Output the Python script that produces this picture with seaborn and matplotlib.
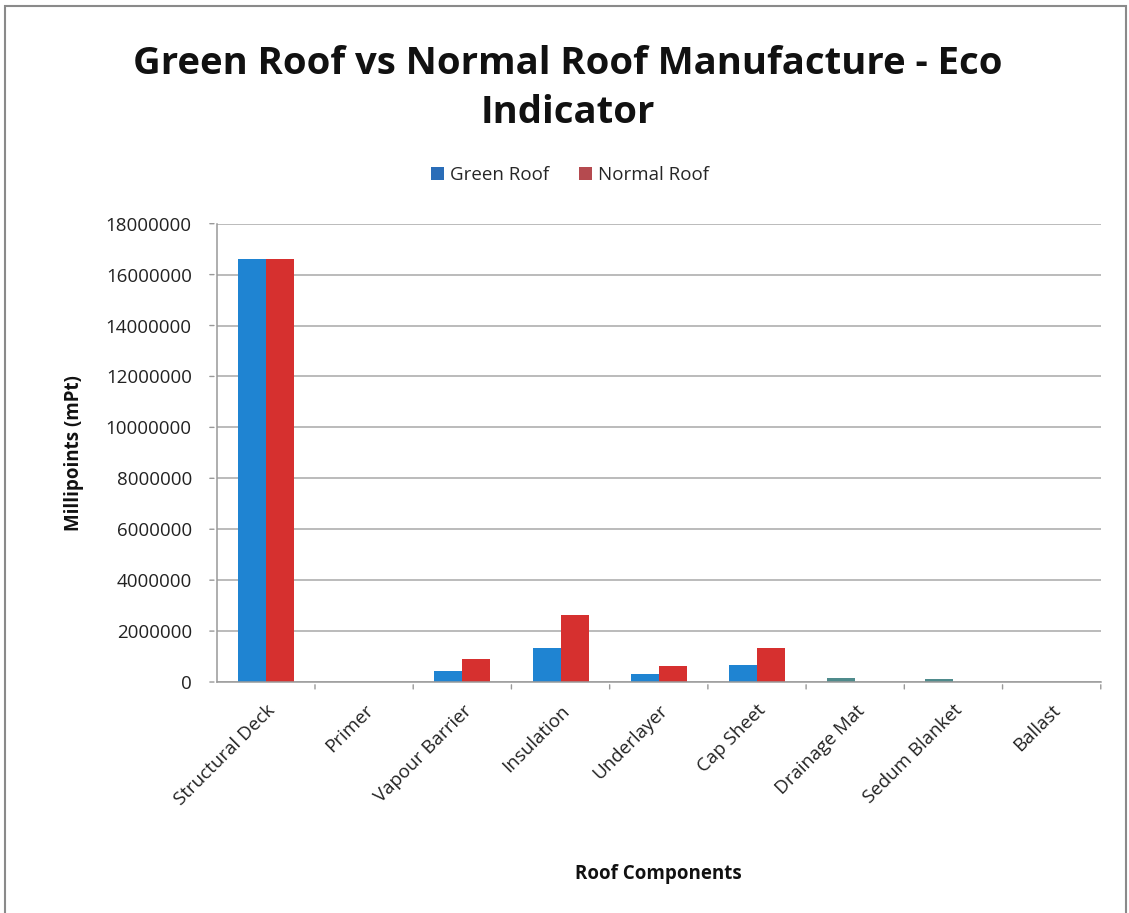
import matplotlib
matplotlib.use("Agg")
import matplotlib.pyplot as plt
from matplotlib.patches import Rectangle, Patch
import seaborn as sns
import pandas as pd

components = ["Structural Deck", "Primer", "Vapour Barrier", "Insulation",
              "Underlayer", "Cap Sheet", "Drainage Mat", "Sedum Blanket", "Ballast"]
green_roof = [16600000, 0, 450000, 1320000, 310000, 670000, 160000, 100000, 0]
normal_roof = [16600000, 0, 920000, 2650000, 610000, 1350000, 0, 0, 0]
series = ["Green Roof", "Normal Roof"]

df = pd.DataFrame({
    "Component": components * 2,
    "Value": green_roof + normal_roof,
    "Roof": [series[0]] * len(components) + [series[1]] * len(components),
})

sns.set_theme(style="white")
plt.rcParams["font.family"] = ["Open Sans", "DejaVu Sans"]

fig = plt.figure(figsize=(11.29, 9.13), dpi=100)
ax = fig.add_axes([0.192, 0.253, 0.783, 0.502])

bar_colors = {"Green Roof": "#1f84d2", "Normal Roof": "#d6302f"}
sns.barplot(data=df, x="Component", y="Value", hue="Roof", order=components,
            hue_order=series, palette=bar_colors, width=0.57, saturation=1,
            linewidth=0, edgecolor="none", ax=ax, legend=False)

# Drainage mat and sedum blanket bars are shaded teal
for idx in (6, 7):
    ax.containers[0][idx].set_facecolor("#4f8b8c")

ax.set_ylim(0, 18000000)
ax.set_xlim(-0.5, len(components) - 0.5)
ax.set_yticks(range(0, 18000001, 2000000))
ax.set_yticklabels([str(v) for v in range(0, 18000001, 2000000)], fontsize=13.5, color="#222222")
ax.yaxis.grid(True, color="#a8a8a8", linewidth=1.1)
ax.set_axisbelow(True)

ax.set_xticks(range(len(components)))
ax.set_xticklabels(components, rotation=45, ha="right", rotation_mode="anchor",
                   fontsize=13.5, color="#222222")
ax.tick_params(axis="x", length=0, pad=14)
ax.tick_params(axis="y", length=0, pad=18)

# category separator ticks on the x axis and value ticks on the y axis
for b in [i + 0.5 for i in range(len(components))]:
    ax.annotate("", xy=(b, 0), xycoords=("data", "axes fraction"),
                xytext=(0, -7), textcoords="offset points",
                arrowprops=dict(arrowstyle="-", color="#999999", lw=1))
for v in range(0, 18000001, 2000000):
    ax.annotate("", xy=(0, v), xycoords=("axes fraction", "data"),
                xytext=(-7, 0), textcoords="offset points",
                arrowprops=dict(arrowstyle="-", color="#999999", lw=1))

for side in ("top", "right"):
    ax.spines[side].set_visible(False)
for side in ("left", "bottom"):
    ax.spines[side].set_color("#999999")
    ax.spines[side].set_linewidth(1.1)

ax.set_ylabel("Millipoints (mPt)", fontsize=13.5, fontweight="bold", color="#111111", labelpad=16)
ax.set_xlabel("Roof Components", fontsize=13.5, fontweight="bold", color="#111111", labelpad=40)

fig.text(0.503, 0.903, "Green Roof vs Normal Roof Manufacture - Eco\nIndicator",
         ha="center", va="center", fontsize=27.5, fontweight="bold", color="#111111",
         linespacing=1.35)

handles = [Patch(facecolor="#2a6db8", edgecolor="none"),
           Patch(facecolor="#b54a4f", edgecolor="none")]
fig.legend(handles, series, loc="center", bbox_to_anchor=(0.505, 0.808), ncol=2,
           frameon=False, fontsize=13.5, handlelength=0.7, handleheight=0.7,
           handletextpad=0.3, columnspacing=1.6)

fig.patches.append(Rectangle((0.004, -0.01), 0.993, 1.003, transform=fig.transFigure,
                             fill=False, edgecolor="#8a8a8a", linewidth=1.5))

fig.savefig("out.png", dpi=100, facecolor="white")
